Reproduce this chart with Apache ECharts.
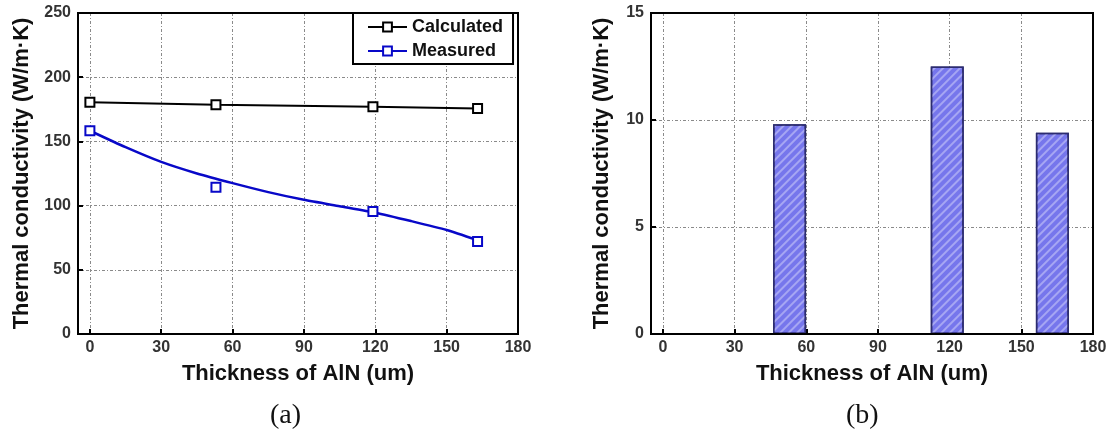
<!DOCTYPE html>
<html>
<head>
<meta charset="utf-8">
<script src="https://cdn.jsdelivr.net/npm/echarts@6/dist/echarts.min.js"></script>
<style>
html,body{margin:0;padding:0;background:#fff;}
#main{width:1113px;height:434px;}
</style>
</head>
<body>
<div id="main"></div>
<script>
// ---- data ----
const thickness = [0, 53, 119, 163];
const calculated = [180.4, 178.6, 177.0, 175.7];
const measured = [158.3, 114.2, 95.5, 72.1];
const fitThickness = [0, 15, 30, 45, 60, 75, 90, 105, 120, 135, 150, 163];
const measuredFit = [158.3, 145.5, 134, 125, 117.5, 110.5, 104.5, 99.5, 94.5, 88, 81, 73];
const barThickness = [53, 119, 163];
const barValues = [9.8, 12.5, 9.4];
const xTicks = [0, 30, 60, 90, 120, 150, 180];
const xName = 'Thickness of AlN (um)';
const yName = 'Thermal conductivity (W/m\u00B7K)';
const legendNames = ['Calculated', 'Measured'];

const zip = (a, b) => a.map((v, i) => [v, b[i]]);

const FONT = '"Liberation Sans", Arial, sans-serif';
const gridLine = { show: true, lineStyle: { color: '#8a8a8a', width: 1, type: [3, 2, 1, 2] } };

function xAxisCfg(gridIndex) {
  return {
    type: 'value', gridIndex, min: -5, max: 180,
    name: xName, nameLocation: 'middle', nameGap: 29,
    nameTextStyle: { fontFamily: FONT, fontWeight: 'bold', fontSize: 22, color: '#111' },
    axisLine: { show: true, onZero: false, lineStyle: { color: '#000', width: 2 } },
    axisTick: { show: true, inside: true, length: 5, lineStyle: { color: '#000', width: 2 }, customValues: xTicks },
    axisLabel: { customValues: xTicks, margin: 6, fontFamily: FONT, fontWeight: 'bold', fontSize: 16, color: '#333' },
    splitLine: gridLine
  };
}
function yAxisCfg(gridIndex, max, interval, gap) {
  return {
    type: 'value', gridIndex, min: 0, max, interval,
    name: yName, nameLocation: 'middle', nameGap: gap,
    nameTextStyle: { fontFamily: FONT, fontWeight: 'bold', fontSize: 22, color: '#111' },
    axisLine: { show: true, onZero: false, lineStyle: { color: '#000', width: 2 } },
    axisTick: { show: true, inside: true, length: 5, lineStyle: { color: '#000', width: 2 } },
    axisLabel: { margin: 7, fontFamily: FONT, fontWeight: 'bold', fontSize: 16, color: '#333' },
    splitLine: gridLine
  };
}

const chart = echarts.init(document.getElementById('main'), null, { renderer: 'canvas' });
chart.setOption({
  backgroundColor: '#fff',
  animation: false,
  grid: [
    { left: 78, top: 13, width: 440, height: 321, show: true, borderColor: '#000', borderWidth: 2, backgroundColor: 'transparent', z: 5 },
    { left: 651, top: 13, width: 442, height: 321, show: true, borderColor: '#000', borderWidth: 2, backgroundColor: 'transparent', z: 5 }
  ],
  xAxis: [xAxisCfg(0), xAxisCfg(1)],
  yAxis: [yAxisCfg(0, 250, 50, 45), yAxisCfg(1, 15, 5, 38)],
  legend: {
    data: legendNames,
    orient: 'vertical',
    left: 353, top: 13,
    padding: [5, 10, 4, 14],
    itemGap: 6,
    itemWidth: 39, itemHeight: 11,
    backgroundColor: '#fff',
    borderColor: '#000', borderWidth: 2,
    textStyle: { fontFamily: FONT, fontWeight: 'bold', fontSize: 18, color: '#111' },
    z: 6
  },
  graphic: [
    { type: 'text', left: 270, top: 402, style: { text: '(a)', font: '28px "Liberation Serif", "Times New Roman", serif', fill: '#111' } },
    { type: 'text', left: 846, top: 402, style: { text: '(b)', font: '28px "Liberation Serif", "Times New Roman", serif', fill: '#111' } }
  ],
  series: [
    {
      name: 'Calculated', type: 'line', xAxisIndex: 0, yAxisIndex: 0,
      data: zip(thickness, calculated),
      symbol: 'emptyRect', symbolSize: 9, color: '#000',
      lineStyle: { width: 2, color: '#000' },
      itemStyle: { color: '#000', borderWidth: 2 },
      z: 3
    },
    {
      name: 'Measured', type: 'line', xAxisIndex: 0, yAxisIndex: 0,
      data: zip(fitThickness, measuredFit),
      smooth: 0.2, showSymbol: false, symbol: 'emptyRect', symbolSize: 9, color: '#0808c8',
      lineStyle: { width: 2.5, color: '#0808c8' },
      itemStyle: { color: '#0808c8', borderWidth: 2 },
      z: 3
    },
    {
      name: 'Measured points', type: 'scatter', xAxisIndex: 0, yAxisIndex: 0,
      data: zip(thickness, measured),
      symbol: 'emptyRect', symbolSize: 9,
      itemStyle: { color: '#0808c8', borderWidth: 2, opacity: 1 },
      z: 4
    },
    {
      name: 'Bars', type: 'bar', xAxisIndex: 1, yAxisIndex: 1,
      data: zip(barThickness, barValues),
      barWidth: 33,
      itemStyle: {
        color: '#7676ec', borderColor: '#2c2c70', borderWidth: 1.5,
        decal: { symbol: 'rect', symbolSize: 1, color: 'rgba(255,255,255,0.35)', dashArrayX: [1, 0], dashArrayY: [2, 4], rotation: -Math.PI / 4 }
      }
    }
  ]
});
</script>
</body>
</html>
